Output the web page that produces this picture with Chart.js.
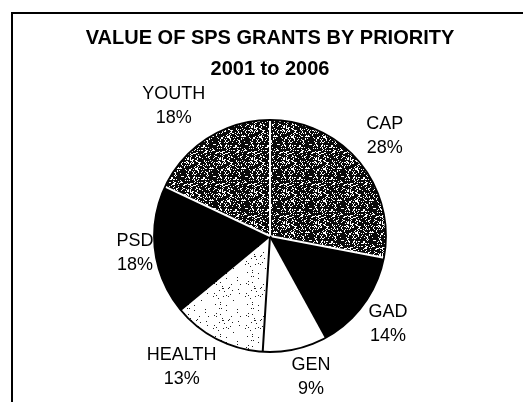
<!DOCTYPE html>
<html>
<head>
<meta charset="utf-8">
<script src="https://cdn.jsdelivr.net/npm/chart.js@4"></script>
<style>
  html, body { margin: 0; padding: 0; background: #fff; }
  canvas { display: block; }
</style>
</head>
<body>
<canvas id="myChart" width="523" height="402"></canvas>
<script>
const categories = ['CAP', 'GAD', 'GEN', 'HEALTH', 'PSD', 'YOUTH'];
const shares = [28, 14, 9, 13, 18, 18];
const shareLabels = shares.map(v => v + '%');

const canvas = document.getElementById('myChart');
const ctx = canvas.getContext('2d');

// speckled tile, used to imitate the scanned shading
function speckle(base, dot, limit) {
    const tile = document.createElement('canvas');
    tile.width = 32;
    tile.height = 32;
    const t = tile.getContext('2d');
    t.fillStyle = base;
    t.fillRect(0, 0, 32, 32);
    t.fillStyle = dot;
    for (let y = 0; y < 32; y++) {
        for (let x = 0; x < 32; x++) {
            let h = Math.imul(x + 1, 374761393) + Math.imul(y + 1, 668265263);
            h = Math.imul(h ^ (h >>> 13), 1274126177);
            h = (h ^ (h >>> 16)) >>> 0;
            if ((h % 1000) / 1000 < limit) t.fillRect(x, y, 1, 1);
        }
    }
    return ctx.createPattern(tile, 'repeat');
}

const darkSpeck = speckle('#0a0a0a', '#fff', 0.24);
const lightSpeck = speckle('#fff', '#222', 0.035);
const fills = [darkSpeck, '#000', '#fff', lightSpeck, '#000', darkSpeck];
const isDark = [true, true, false, false, true, true];

// label placement: distance from centre beyond radius, and angle nudge (deg)
const labelGap = [36, 31, 31, 42, 20, 46];
const labelTurn = [-1.4, 0.6, -3.6, 7, 0, -4];

const frame = {
    id: 'frame',
    beforeDraw(chart) {
        const c = chart.ctx;
        c.save();
        c.fillStyle = '#fff';
        c.fillRect(0, 0, chart.width, chart.height);
        c.strokeStyle = '#000';
        c.lineWidth = 2;
        c.beginPath();
        c.moveTo(12, chart.height);
        c.lineTo(12, 13);
        c.lineTo(chart.width, 13);
        c.stroke();
        c.restore();
    }
};

const edges = {
    id: 'edges',
    afterDatasetsDraw(chart) {
        const c = chart.ctx;
        const arcs = chart.getDatasetMeta(0).data;
        const n = arcs.length;
        c.save();
        arcs.forEach((arc, i) => {
            const p = arc.getProps(['x', 'y', 'startAngle', 'outerRadius']);
            const prev = (i + n - 1) % n;
            c.strokeStyle = (isDark[i] && isDark[prev]) ? '#fff' : '#000';
            c.lineWidth = 2;
            c.beginPath();
            c.moveTo(p.x, p.y);
            c.lineTo(p.x + Math.cos(p.startAngle) * p.outerRadius, p.y + Math.sin(p.startAngle) * p.outerRadius);
            c.stroke();
        });
        const a = arcs[0].getProps(['x', 'y', 'outerRadius']);
        c.strokeStyle = '#000';
        c.lineWidth = 1.8;
        c.beginPath();
        c.arc(a.x, a.y, a.outerRadius, 0, Math.PI * 2);
        c.stroke();
        c.restore();
    },
    afterDraw(chart) {
        const c = chart.ctx;
        const arcs = chart.getDatasetMeta(0).data;
        c.save();
        c.fillStyle = '#000';
        c.font = '18px "Liberation Sans", Arial, sans-serif';
        c.textAlign = 'center';
        c.textBaseline = 'middle';
        arcs.forEach((arc, i) => {
            const p = arc.getProps(['x', 'y', 'startAngle', 'endAngle', 'outerRadius']);
            const mid = (p.startAngle + p.endAngle) / 2 + labelTurn[i] * Math.PI / 180;
            const r = p.outerRadius + labelGap[i];
            const x = p.x + Math.cos(mid) * r;
            const y = p.y + Math.sin(mid) * r;
            c.fillText(categories[i], x, y - 12);
            c.fillText(shareLabels[i], x, y + 12);
        });
        c.restore();
    }
};

new Chart(canvas, {
    type: 'pie',
    data: {
        labels: categories,
        datasets: [{
            data: shares,
            backgroundColor: fills,
            borderWidth: 0
        }]
    },
    options: {
        responsive: false,
        animation: false,
        radius: 116,
        layout: {
            padding: { left: 17, right: 0, top: 0, bottom: 11 }
        },
        plugins: {
            legend: { display: false },
            tooltip: { enabled: false },
            title: {
                display: true,
                text: 'VALUE OF SPS GRANTS BY PRIORITY',
                color: '#000',
                font: { family: '"Liberation Sans", Arial, sans-serif', size: 20, weight: 'bold', lineHeight: 1.2 },
                padding: { top: 26, bottom: 0 }
            },
            subtitle: {
                display: true,
                text: '2001 to 2006',
                color: '#000',
                font: { family: '"Liberation Sans", Arial, sans-serif', size: 20, weight: 'bold', lineHeight: 1.2 },
                padding: { top: 7, bottom: 0 }
            }
        }
    },
    plugins: [frame, edges]
});
</script>
</body>
</html>
